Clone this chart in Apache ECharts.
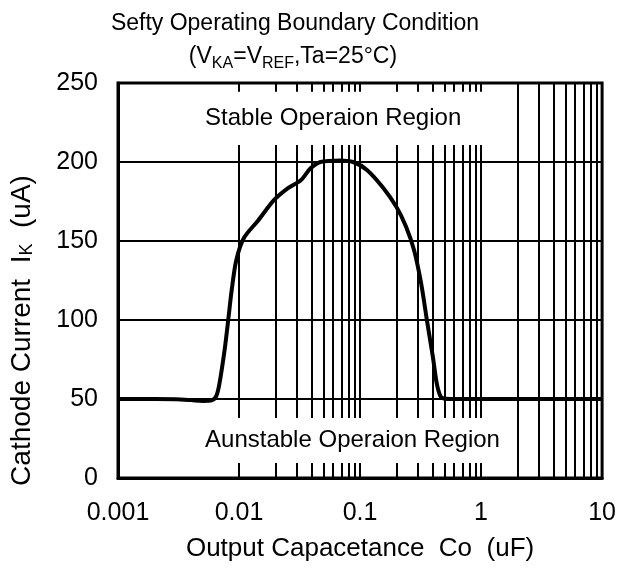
<!DOCTYPE html>
<html>
<head>
<meta charset="utf-8">
<script src="https://cdn.jsdelivr.net/npm/echarts@6/dist/echarts.min.js"></script>
<style>html,body{margin:0;padding:0;background:#fff}#c{width:619px;height:570px}</style>
</head>
<body>
<div id="c"></div>
<script>
// Data
var capacitance = [0.001,0.002,0.003,0.004,0.005,0.006,0.0065,0.0069,0.0076,0.0082,0.0087,0.0095,0.011,0.0144,0.0195,0.0254,0.0324,0.039,0.047,0.0685,0.0876,0.114,0.154,0.2,0.24,0.28,0.32,0.36,0.40,0.43,0.46,0.49,0.6,1,10];
var cathodeCurrent = [50,50,49.8,49.3,48.8,49.3,52,60,81,102,119,138,152,163,176,183.5,188.5,196,200,201,200,195,184,171.5,159,144,123,98,76.5,60,52,50.3,50,50,50];
var xTickLabels = ['0.001','0.01','0.1','1','10'];
var yTickLabels = ['0','50','100','150','200','250'];
var regionLabels = ['Stable Operaion Region','Aunstable Operaion Region'];
var regionBoxes = [[[0.0045,244.5],[1.53,210.8]],[[0.0045,38],[1.53,9.5]]];
var minorMultipliers = [2,3,4,5,6,7,8,9];
var decades = [0.001,0.01,0.1,1];

var FONT = 'Liberation Sans';
var minorLines = [];
decades.forEach(function(d){ minorMultipliers.forEach(function(m){ minorLines.push({xAxis: +(m*d).toPrecision(6)}); }); });

var chart = echarts.init(document.getElementById('c'), null, {renderer:'canvas'});
chart.setOption({
  animation: false,
  backgroundColor: '#fff',
  textStyle: {fontFamily: FONT, color: '#000'},
  title: [
    {text: 'Sefty Operating Boundary Condition', left: 295, top: 12, padding: 0, textAlign: 'center',
     textStyle: {fontFamily: FONT, fontSize: 23, fontWeight: 'normal', color: '#000'}},
    {text: '(V{sub|KA}=V{sub|REF},Ta=25°C)', left: 293, top: 42, padding: 0, textAlign: 'center',
     textStyle: {fontFamily: FONT, fontSize: 23, fontWeight: 'normal', color: '#000', lineHeight: 30, verticalAlign: 'middle',
       rich: {sub: {fontFamily: FONT, fontSize: 16, color: '#000', lineHeight: 16, verticalAlign: 'bottom'}}}}
  ],
  grid: {left: 115, right: 14, top: 83, bottom: 92, show: true, borderColor: '#000', borderWidth: 3, backgroundColor: 'transparent'},
  xAxis: {
    type: 'log', logBase: 10, min: 0.001, max: 10,
    name: 'Output Capacetance  Co  (uF)', nameLocation: 'middle', nameGap: 58,
    nameTextStyle: {fontFamily: FONT, fontSize: 26, color: '#000'},
    axisLine: {show: true, lineStyle: {color: '#000', width: 3}},
    axisTick: {show: false},
    axisLabel: {fontFamily: FONT, fontSize: 25, color: '#000', margin: 23,
      formatter: function(v){ var i = Math.round(Math.log10(v)) + 3; return xTickLabels[i] !== undefined ? xTickLabels[i] : ''; }},
    splitLine: {show: true, lineStyle: {color: '#000', width: 2}}
  },
  yAxis: {
    type: 'value', min: 0, max: 250, interval: 50,
    name: 'Cathode Current  I{sub|K}  (uA)', nameLocation: 'middle', nameGap: 82,
    nameTextStyle: {fontFamily: FONT, fontSize: 28, color: '#000', padding: [0, 100, 0, 0],
      rich: {sub: {fontFamily: FONT, fontSize: 18, color: '#000', lineHeight: 18, verticalAlign: 'bottom'}}},
    axisLine: {show: true, lineStyle: {color: '#000', width: 3}},
    axisTick: {show: false},
    axisLabel: {fontFamily: FONT, fontSize: 25, color: '#000', margin: 20,
      formatter: function(v){ return yTickLabels[Math.round(v/50)]; }},
    splitLine: {show: true, lineStyle: {color: '#000', width: 2}}
  },
  series: [
    {
      type: 'line', data: [], z: 1, silent: true,
      markLine: {z: 1, silent: true, symbol: ['none','none'], label: {show: false},
        lineStyle: {color: '#000', width: 2, type: 'solid'}, data: minorLines}
    },
    {
      type: 'line', data: [], z: 3, silent: true,
      markArea: {z: 3, silent: true, itemStyle: {color: '#fff', opacity: 1},
        label: {show: true, position: 'insideLeft', distance: 8, fontFamily: FONT, fontSize: 24, color: '#000'},
        data: regionBoxes.map(function(b, i){ return [{coord: b[0], name: regionLabels[i]}, {coord: b[1]}]; })}
    },
    {
      type: 'line', z: 4, showSymbol: false, smooth: 0.3,
      lineStyle: {color: '#000', width: 4},
      data: capacitance.map(function(c, i){ return [c, cathodeCurrent[i]]; })
    }
  ]
});
</script>
</body>
</html>
